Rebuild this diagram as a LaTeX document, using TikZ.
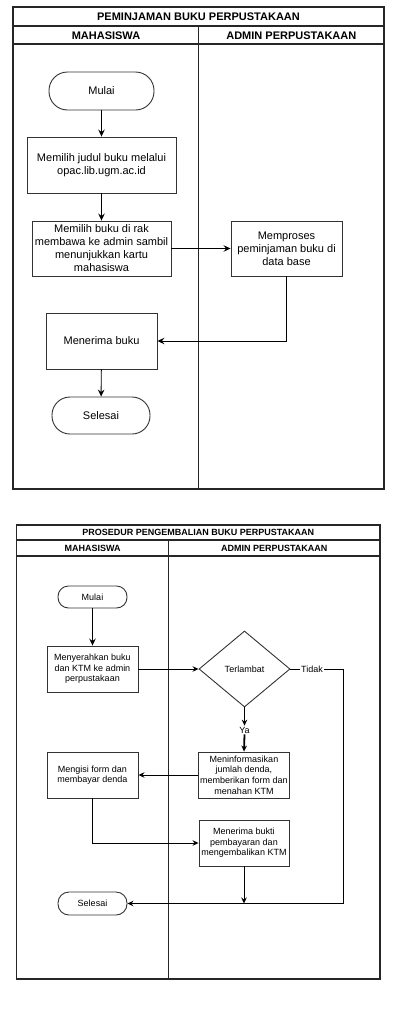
\documentclass[tikz,border=0pt]{standalone}
\usepackage{fontspec}
\setmainfont{Liberation Sans}
\usetikzlibrary{shapes.geometric,arrows.meta,calc}
\begin{document}
\begin{tikzpicture}[x=1pt,y=-1pt,
  frame/.style={draw=black!85, line width=1.1pt},
  ttl/.style={font=\fontsize{11}{13}\selectfont\bfseries, inner sep=0pt},
  ttlS/.style={font=\fontsize{9}{10}\selectfont\bfseries, inner sep=0pt},
  box/.style={draw=black!80, line width=0.9pt, rectangle, align=center, inner sep=1pt, font=\fontsize{11}{13}\selectfont},
  sbox/.style={draw=black!80, line width=0.9pt, rectangle, align=center, inner sep=1pt, font=\fontsize{9}{10.6}\selectfont},
  lbl/.style={font=\fontsize{9}{10}\selectfont, inner sep=1pt, fill=white},
  arr/.style={-{Stealth[length=7pt,width=6.5pt,inset=2.5pt]}, line width=0.9pt},
  sarr/.style={-{Stealth[length=6pt,width=5.5pt,inset=2pt]}, line width=0.9pt},
  line/.style={line width=0.9pt}
]
\fill[white] (0,0) rectangle (420,1018);
\useasboundingbox (0,0) rectangle (420,1018);

% ---------- Top diagram ----------
\draw[frame] (13,7) rectangle (384,489);
\draw[frame] (13,26) -- (384,26);
\draw[frame] (13,44) -- (384,44);
\draw[frame] (198.7,26) -- (198.7,489);
\node[ttl] (titleA) at (198.5,16.5) {PEMINJAMAN BUKU PERPUSTAKAAN};
\node[ttl] (laneAa) at (106,35.3) {MAHASISWA};
\node[ttl] (laneAb) at (291.3,35.3) {ADMIN PERPUSTAKAAN};

\node[box, rounded corners=18.5pt, minimum width=105pt, minimum height=38pt] (mulaiA) at (101.5,91) {Mulai};
\node[box, minimum width=149pt, minimum height=56pt] (judulA) at (101.5,165) {Memilih judul buku melalui\\opac.lib.ugm.ac.id};
\node[box, minimum width=139pt, minimum height=55pt] (rakA) at (101.5,248.5) {Memilih buku di rak\\membawa ke admin sambil\\menunjukkan kartu\\mahasiswa};
\node[box, minimum width=111pt, minimum height=55pt] (prosesA) at (286.5,248.5) {Memproses\\peminjaman buku di\\data base};
\node[box, minimum width=111pt, minimum height=56pt] (terimaA) at (101.5,341) {Menerima buku};
\node[box, rounded corners=18pt, minimum width=98pt, minimum height=37pt] (selesaiA) at (101,415.5) {Selesai};

\draw[arr] (mulaiA) -- (judulA);
\draw[arr] (judulA) -- (rakA);
\draw[arr] (rakA) -- (prosesA);
\draw[arr] (prosesA.south) |- (terimaA.east);
\draw[arr] (terimaA) -- (selesaiA);

% ---------- Bottom diagram ----------
\draw[frame] (16.7,525) rectangle (380,979);
\draw[frame] (16.7,540) -- (380,540);
\draw[frame] (16.7,556) -- (380,556);
\draw[frame] (168.7,540) -- (168.7,979);
\node[ttlS] (titleB) at (198.3,532.7) {PROSEDUR PENGEMBALIAN BUKU PERPUSTAKAAN};
\node[ttlS] (laneBa) at (92.7,548.3) {MAHASISWA};
\node[ttlS] (laneBb) at (274.3,548.3) {ADMIN PERPUSTAKAAN};

\node[sbox, rounded corners=10.5pt, minimum width=69pt, minimum height=22pt] (mulaiB) at (92.5,597) {Mulai};
\node[sbox, minimum width=91pt, minimum height=46pt] (serahB) at (92.5,669) {Menyerahkan buku\\dan KTM ke admin\\perpustakaan};
\node[draw=black!80, line width=0.9pt, diamond, aspect=1.2, minimum width=91pt, minimum height=76pt, inner sep=0pt, font=\fontsize{9}{10}\selectfont] (telatB) at (244.5,669) {Terlambat};
\node[lbl] (yaB) at (244.5,730) {Ya};
\node[lbl] (tidakB) at (312,669) {Tidak};
\node[sbox, minimum width=90.5pt, minimum height=46pt] (infoB) at (244,775) {Meninformasikan\\jumlah denda,\\memberikan form dan\\menahan KTM};
\node[sbox, minimum width=91pt, minimum height=46pt] (isiB) at (92.5,775) {Mengisi form dan\\membayar denda};
\node[sbox, minimum width=90pt, minimum height=46pt] (buktiB) at (244,843) {Menerima bukti\\pembayaran dan\\mengembalikan KTM};
\node[sbox, rounded corners=11pt, minimum width=69pt, minimum height=23pt] (selesaiB) at (92.5,903.5) {Selesai};
\coordinate (cornerTop) at (343,669);
\coordinate (cornerBot) at (343,903.5);
\coordinate (joinB) at (244,903.5);

\draw[arr] (mulaiB) -- (serahB);
\draw[sarr] (serahB) -- (telatB);
\draw[sarr, line width=1.8pt] (telatB.south) -- (yaB.north);
\draw[sarr, line width=1.8pt] (yaB.south) -- (infoB.north);
\draw[line] (telatB.east) -- (tidakB.west);
\draw[line] (tidakB.east) -- (cornerTop) -- (cornerBot) -- (joinB);
\draw[sarr] (joinB) -- (selesaiB.east);
\draw[sarr] (infoB.west) -- (isiB.east);
\draw[sarr] (isiB.south) |- (buktiB.west);
\draw[sarr] (buktiB.south) -- (joinB);
\end{tikzpicture}
\end{document}
